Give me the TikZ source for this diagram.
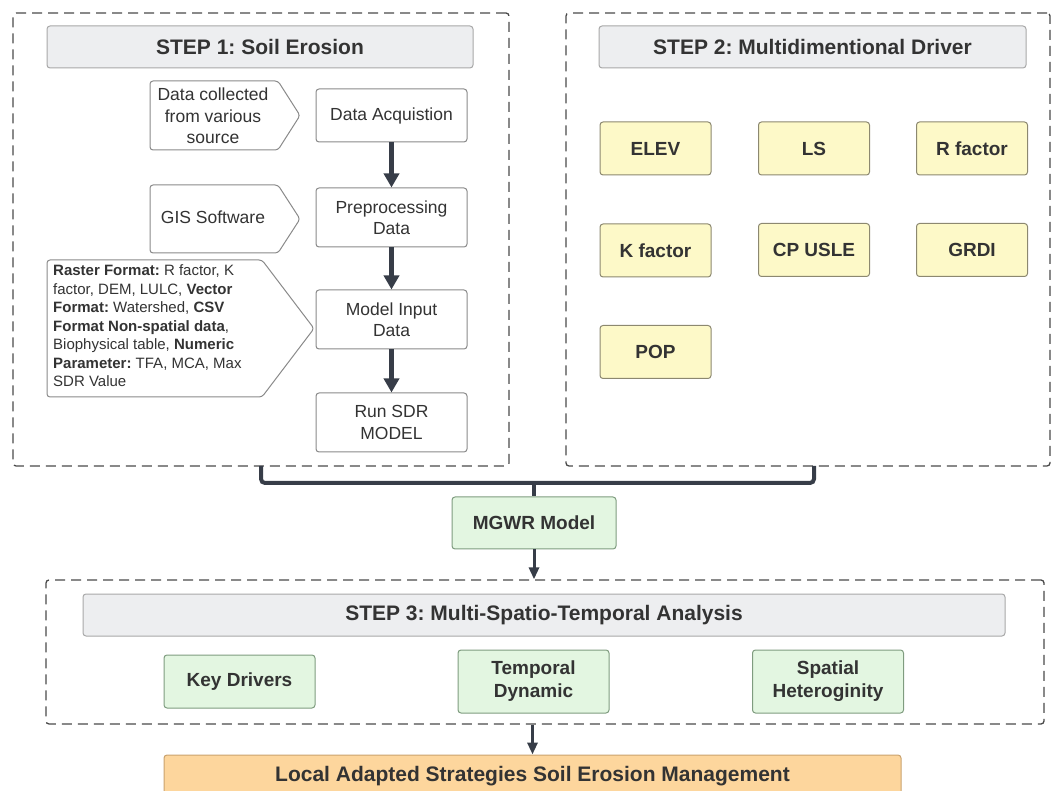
\documentclass[tikz,border=0pt]{standalone}
\usepackage{fontspec}
\setmainfont{Liberation Sans}
\usetikzlibrary{arrows.meta}
\frenchspacing
\definecolor{txt}{HTML}{333333}
\definecolor{arr}{HTML}{373D48}
\definecolor{dashc}{HTML}{4A4A4A}
\definecolor{titlefill}{HTML}{EDEEF0}
\definecolor{titledraw}{HTML}{A8A8A8}
\definecolor{boxdraw}{HTML}{8A8A8A}
\definecolor{yfill}{HTML}{FDF9C8}
\definecolor{ydraw}{HTML}{8C8870}
\definecolor{gfill}{HTML}{E3F6E1}
\definecolor{gdraw}{HTML}{7F9C7F}
\definecolor{ofill}{HTML}{FDD69D}
\definecolor{odraw}{HTML}{C9A26E}
\tikzset{
  x=1pt, y=-1pt,
  every node/.style={text=txt, inner sep=0pt, execute at begin node=\frenchspacing},
  container/.style={draw=dashc, dash pattern=on 10pt off 6pt, line width=1.3pt, rounded corners=3pt},
  titlebox/.style={draw=titledraw, fill=titlefill, line width=1pt, rounded corners=3pt, font=\bfseries\fontsize{21}{24}\selectfont},
  flowbox/.style={draw=boxdraw, fill=white, line width=1pt, rounded corners=3pt, align=center, font=\fontsize{17.5}{21.5}\selectfont, minimum width=151pt},
  ybox/.style={draw=ydraw, fill=yfill, line width=1pt, rounded corners=3pt, font=\bfseries\fontsize{19}{22}\selectfont, minimum width=111pt, minimum height=53pt},
  gbox/.style={draw=gdraw, fill=gfill, line width=1pt, rounded corners=3pt, align=center, font=\bfseries\fontsize{19}{23}\selectfont, minimum width=151pt},
  pent/.style={draw=boxdraw, fill=white, line width=1pt, rounded corners=3pt},
  bigarrow/.style={draw=arr, line width=5pt, -{Triangle[width=15pt,length=14pt]}},
  thinarrow/.style={draw=arr, line width=3pt, -{Triangle[width=10pt,length=12pt]}},
  bracket/.style={draw=arr, line width=4pt, rounded corners=4pt},
}
\begin{document}
\begin{tikzpicture}
\useasboundingbox (0,0) rectangle (1053,791);
% containers
\node[container, minimum width=496pt, minimum height=453pt] (c1) at (261,239.5) {};
\node[container, minimum width=484pt, minimum height=453pt] (c2) at (808,239.5) {};
\node[container, minimum width=998pt, minimum height=144pt] (c3) at (545,652) {};
% titles
\node[titlebox, minimum width=426pt, minimum height=42pt] (t1) at (260,47) {STEP 1: Soil Erosion};
\node[titlebox, minimum width=427pt, minimum height=42pt] (t2) at (812.5,47) {STEP 2: Multidimentional Driver};
\node[titlebox, minimum width=922pt, minimum height=42pt] (t3) at (544,615) {STEP 3: Multi-Spatio-Temporal Analysis};
% step 1 flow
\node[flowbox, minimum height=53pt] (da) at (391.5,115.5) {Data Acquistion};
\node[flowbox, minimum height=59pt] (pp) at (391.5,217.5) {Preprocessing\\Data};
\node[flowbox, minimum height=59pt] (mi) at (391.5,319.5) {Model Input\\Data};
\node[flowbox, minimum height=59pt] (rs) at (391.5,422.5) {Run SDR\\MODEL};
\draw[bigarrow] (da) -- (pp);
\draw[bigarrow] (pp) -- (mi);
\draw[bigarrow] (mi) -- (rs);
% pentagons
\draw[pent] (150,81) -- (278,81) -- (300,115.5) -- (278,150) -- (150,150) -- cycle;
\node[align=center, font=\fontsize{17.5}{21.5}\selectfont] (src) at (213,116) {Data collected\\from various\\source};
\draw[pent] (150,185) -- (278,185) -- (300,219) -- (278,253) -- (150,253) -- cycle;
\node[font=\fontsize{17.5}{21.5}\selectfont] (gis) at (213,217) {GIS Software};
\draw[pent] (47,260) -- (262,260) -- (314,328.5) -- (262,397) -- (47,397) -- cycle;
\node[align=left, anchor=north west, font=\fontsize{15}{18.5}\selectfont] (fmt) at (53,264.5) {%
\textbf{Raster Format:} R factor, K\\
factor, DEM, LULC, \textbf{Vector}\\
\textbf{Format:} Watershed, \textbf{CSV}\\
\textbf{Format Non-spatial data},\\
Biophysical table, \textbf{Numeric}\\
\textbf{Parameter:} TFA, MCA, Max\\
SDR Value};
% step 2 drivers
\node[ybox] (elev) at (655.5,148.5) {ELEV};
\node[ybox] (ls) at (814,148.5) {LS};
\node[ybox] (rf) at (972,148.5) {R factor};
\node[ybox] (kf) at (655.5,250.5) {K factor};
\node[ybox] (cp) at (814,250) {CP USLE};
\node[ybox] (grdi) at (972,250) {GRDI};
\node[ybox] (pop) at (655.5,352) {POP};
% MGWR
\node[gbox, minimum width=164pt, minimum height=52pt] (mgwr) at (534,523) {MGWR Model};
\coordinate (b1) at (261,466);
\coordinate (b2) at (814,466);
\coordinate (bj) at (534,483);
\draw[bracket] (b1) -- (261,483) -- (814,483) -- (b2);
\draw[draw=arr, line width=4pt] (bj) -- (mgwr.north);
\draw[thinarrow] (mgwr.south) -- (c3.north -| mgwr.south);
% step 3
\node[gbox, minimum height=53pt] (kd) at (239.5,681.5) {Key Drivers};
\node[gbox, minimum height=63pt] (td) at (533.5,681.5) {Temporal\\Dynamic};
\node[gbox, minimum height=63pt] (sh) at (828,681.5) {Spatial\\Heteroginity};
% final
\node[draw=odraw, fill=ofill, line width=1pt, rounded corners=3pt, font=\bfseries\fontsize{21}{24}\selectfont, minimum width=737pt, minimum height=42pt] (fin) at (532.5,776) {Local Adapted Strategies Soil Erosion Management};
\draw[thinarrow] (c3.south -| fin.north) -- (fin.north);
\end{tikzpicture}
\end{document}
